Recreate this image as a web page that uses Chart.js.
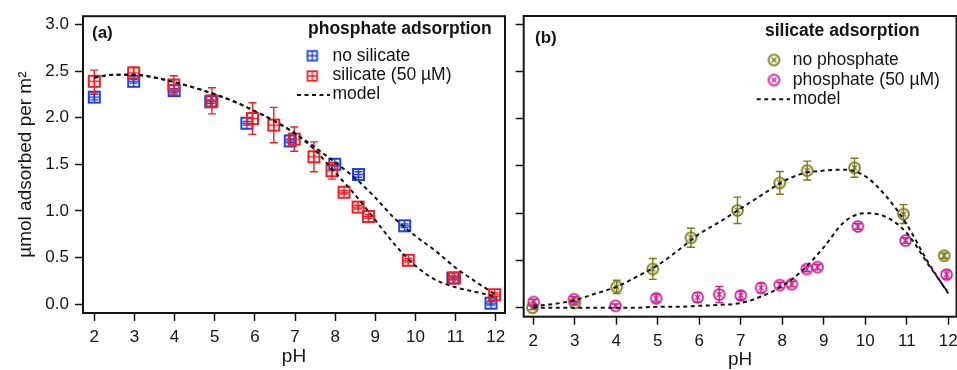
<!DOCTYPE html>
<html><head><meta charset="utf-8">
<script src="https://cdn.jsdelivr.net/npm/chart.js@4/dist/chart.umd.min.js"></script>
<style>
html,body{margin:0;padding:0;background:#fff;overflow:hidden;width:957px;height:370px;position:relative;}
#wrapA{position:absolute;left:0;top:0;width:512px;height:370px;}
#wrapB{position:absolute;left:510px;top:0;width:460px;height:380px;}
canvas{display:block;}
</style></head><body>
<div id="wrapA"><canvas id="cA" width="512" height="370"></canvas></div>
<div id="wrapB"><canvas id="cB" width="460" height="380"></canvas></div>
<script>
// ---------- data ----------
const pHTicks = [2,3,4,5,6,7,8,9,10,11,12];
const yTicks = [0,0.5,1.0,1.5,2.0,2.5,3.0];

// panel (a): phosphate adsorption
const phNoSil  = [2.0, 2.98, 3.99, 4.9, 5.8, 6.88, 7.99, 8.58, 9.73, 10.93, 11.88];
const valNoSil = [2.22, 2.39, 2.29, 2.17, 1.94, 1.75, 1.50, 1.39, 0.84, 0.28, 0.01];
const errNoSil = [0.03, 0.02, 0.02, 0.02, 0.02, 0.02, 0.02, 0.03, 0.02, 0.02, 0.02];

const phSil  = [2.0, 2.98, 3.98, 4.93, 5.94, 6.47, 6.98, 7.47, 7.92, 8.22, 8.57, 8.83, 9.82, 10.97, 11.97];
const valSil = [2.39, 2.48, 2.35, 2.18, 1.99, 1.92, 1.77, 1.58, 1.43, 1.20, 1.04, 0.94, 0.47, 0.28, 0.10];
const errSil = [0.12, 0.06, 0.10, 0.14, 0.17, 0.19, 0.13, 0.16, 0.09, 0.02, 0.02, 0.02, 0.02, 0.02, 0.02];

const modelPH = [2,2.5,3,3.5,4,4.5,5,5.5,6,6.5,7,7.5,8,8.5,9,9.5,10,10.5,11,11.5,12];
const modelNoSil = [2.43,2.46,2.46,2.43,2.38,2.32,2.25,2.17,2.07,1.96,1.83,1.68,1.52,1.35,1.14,0.91,0.73,0.57,0.39,0.24,0.10];
const modelSil   = [2.43,2.46,2.46,2.43,2.38,2.32,2.25,2.17,2.07,1.96,1.83,1.65,1.41,1.17,0.90,0.63,0.41,0.26,0.18,0.13,0.08];

// panel (b): silicate adsorption
const phNoPhos  = [1.98, 3.0, 4.01, 4.88, 5.8, 6.92, 7.94, 8.6, 9.74, 10.92, 11.9];
const valNoPhos = [0.0, 0.05, 0.22, 0.41, 0.74, 1.03, 1.32, 1.45, 1.48, 0.99, 0.55];
const errNoPhos = [0.02, 0.02, 0.07, 0.11, 0.10, 0.14, 0.12, 0.10, 0.10, 0.10, 0.03];

const phPhos  = [2.01, 2.98, 3.98, 4.96, 5.96, 6.48, 7.0, 7.49, 7.94, 8.23, 8.59, 8.85, 9.82, 10.97, 11.96];
const valPhos = [0.06, 0.09, 0.02, 0.10, 0.11, 0.14, 0.13, 0.21, 0.24, 0.25, 0.41, 0.43, 0.86, 0.71, 0.35];
const errPhos = [0.03, 0.03, 0.02, 0.04, 0.05, 0.085, 0.04, 0.05, 0.03, 0.03, 0.03, 0.03, 0.03, 0.03, 0.04];

const modelNoPhos = [0.02,0.04,0.08,0.15,0.22,0.33,0.45,0.61,0.78,0.91,1.05,1.19,1.33,1.42,1.45,1.46,1.39,1.18,0.88,0.49,0.15];
const modelPhos   = [0.0,0.0,0.0,0.0,0.0,0.0,0.01,0.01,0.02,0.03,0.05,0.12,0.23,0.40,0.64,0.91,1.00,0.96,0.79,0.47,0.16];

// ---------- styling ----------
const FONT = '"Liberation Sans", Arial, Helvetica, sans-serif';
const INK = '#141414';
const BLUE = 'rgb(30,66,218)', RED = 'rgb(238,32,36)', OLIVE = 'rgb(122,122,22)', MAGENTA = 'rgb(204,34,150)';

function squareMarker(color, size, lw){
  const S = Math.ceil(size + lw + 2);
  const c = document.createElement('canvas'); c.width = c.height = S;
  const g = c.getContext('2d'); g.strokeStyle = color; g.lineWidth = lw;
  const m = S/2, h = size/2;
  g.strokeRect(m-h, m-h, size, size);
  g.lineWidth = lw*0.75;
  g.beginPath(); g.moveTo(m, m-h); g.lineTo(m, m+h); g.moveTo(m-h, m); g.lineTo(m+h, m); g.stroke();
  return c;
}
function circleMarker(color, r, lw, a){
  const S = Math.ceil(2*r + lw + 2);
  const c = document.createElement('canvas'); c.width = c.height = S;
  const g = c.getContext('2d'); g.strokeStyle = color; g.lineWidth = lw;
  const m = S/2;
  g.beginPath(); g.arc(m, m, r, 0, Math.PI*2); g.stroke();
  g.lineWidth = lw*0.8;
  g.beginPath(); g.moveTo(m-a,m-a); g.lineTo(m+a,m+a); g.moveTo(m+a,m-a); g.lineTo(m-a,m+a); g.stroke();
  return c;
}
const mkBlue = squareMarker(BLUE, 11, 2), mkRed = squareMarker(RED, 11, 2);
const lgBlue = squareMarker(BLUE, 9.5, 1.8), lgRed = squareMarker(RED, 9.5, 1.8);
const mkOlive = circleMarker(OLIVE, 5.4, 1.8, 2.4), mkMag = circleMarker(MAGENTA, 5.4, 1.8, 2.4);

const pts = (xs, ys) => xs.map((x,i)=>({x, y: ys[i]}));

// ---------- plugins ----------
const errorBars = {
  id:'errorBars',
  beforeDatasetDraw(chart, args){
    const ds = chart.data.datasets[args.index];
    if (!ds.errors) return;
    const xs = chart.scales.x, ys = chart.scales.y, ctx = chart.ctx;
    ctx.save(); ctx.strokeStyle = ds.errColor; ctx.lineWidth = 1.4;
    ds.data.forEach((p,i)=>{
      const e = ds.errors[i]; if (!e) return;
      const x = xs.getPixelForValue(p.x);
      const y0 = ys.getPixelForValue(p.y - e), y1 = ys.getPixelForValue(p.y + e);
      ctx.beginPath();
      ctx.moveTo(x, y0); ctx.lineTo(x, y1);
      ctx.moveTo(x-4, y0); ctx.lineTo(x+4, y0);
      ctx.moveTo(x-4, y1); ctx.lineTo(x+4, y1);
      ctx.stroke();
    });
    ctx.restore();
  }
};
const frame = {
  id:'frame',
  afterDraw(chart){
    const {ctx, chartArea:a} = chart;
    ctx.save(); ctx.strokeStyle = INK; ctx.lineWidth = 2;
    ctx.strokeRect(a.left, a.top, a.right - a.left, a.bottom - a.top);
    ctx.restore();
  }
};
const legendBox = {
  id:'legendBox',
  afterDraw(chart, args, o){
    const ctx = chart.ctx; ctx.save();
    ctx.textBaseline = 'middle'; ctx.textAlign = 'left'; ctx.fillStyle = INK;
    ctx.font = 'bold 17.5px ' + FONT;
    ctx.fillText(o.title, o.titleX, o.titleY);
    ctx.font = 'bold 17px ' + FONT;
    ctx.fillText(o.tag, o.tagX, o.tagY);
    ctx.font = '17.5px ' + FONT;
    o.items.forEach(it=>{
      const ds = chart.data.datasets[it.ds];
      if (ds.showLine) {
        ctx.save(); ctx.strokeStyle = ds.borderColor; ctx.lineWidth = ds.borderWidth;
        ctx.setLineDash(ds.borderDash); ctx.beginPath();
        ctx.moveTo(o.lineX0, it.my); ctx.lineTo(o.lineX1, it.my); ctx.stroke(); ctx.restore();
      } else {
        const img = it.img;
        ctx.drawImage(img, o.markX - img.width/2, it.my - img.height/2);
      }
      ctx.fillStyle = INK;
      ctx.fillText(ds.label, o.textX, it.ty);
    });
    ctx.restore();
  }
};

function xScale(min, max, h, titlePad){
  return {
    type:'linear', min, max,
    afterBuildTicks: s => { s.ticks = pHTicks.map(v=>({value:v})); },
    afterFit: s => { s.height = h; },
    grid:{drawOnChartArea:false, drawTicks:true, tickLength:8, tickWidth:1.5, tickColor:INK},
    border:{display:false},
    ticks:{color:INK, font:{family:FONT, size:17}, padding:6, maxRotation:0, autoSkip:false, callback: v => String(v)},
    title:{display:true, text:'pH', color:INK, font:{family:FONT, size:19}, padding:{top:0, bottom:titlePad}}
  };
}
function yScale(min, max, w, showLabels){
  return {
    type:'linear', min, max,
    afterBuildTicks: s => { s.ticks = yTicks.map(v=>({value:v})); },
    afterFit: s => { s.width = w; },
    grid:{drawOnChartArea:false, drawTicks:true, tickLength:8, tickWidth:1.5, tickColor:INK},
    border:{display:false},
    ticks:{display:showLabels, color:INK, font:{family:FONT, size:17}, padding:6, callback: v => v.toFixed(1)},
    title:{display:showLabels, text:'µmol adsorbed per m²', color:INK, font:{family:FONT, size:19}, padding:{top:14, bottom:0}}
  };
}
const modelStyle = {showLine:true, pointRadius:0, borderColor:INK, borderWidth:2, borderDash:[4,3.5], cubicInterpolationMode:'monotone', fill:false, order:0};

// ---------- chart (a) ----------
new Chart(document.getElementById('cA'), {
  type:'scatter',
  data:{datasets:[
    Object.assign({label:'model', data: pts(modelPH, modelNoSil)}, modelStyle),
    Object.assign({label:'model', data: pts(modelPH, modelSil)}, modelStyle),
    {label:'silicate (50 µM)', data: pts(phSil, valSil), errors: errSil, errColor: RED, pointStyle: mkRed, pointRadius:6, order:1},
    {label:'no silicate', data: pts(phNoSil, valNoSil), errors: errNoSil, errColor: BLUE, pointStyle: mkBlue, pointRadius:6, order:2}
  ]},
  options:{
    responsive:false, animation:false, devicePixelRatio:1,
    layout:{padding:{top:14, right:6.5, bottom:0, left:0}},
    scales:{ x: xScale(1.719, 12.229, 57, 2.1), y: yScale(-0.0958, 3.088, 83, true) },
    plugins:{
      legend:{display:false}, tooltip:{enabled:false},
      legendBox:{
        title:'phosphate adsorption', titleX:308, titleY:28.9,
        tag:'(a)', tagX:92, tagY:33.5,
        markX:312.3, textX:332.5, lineX0:297, lineX1:330,
        items:[
          {ds:3, img:lgBlue, my:55.7, ty:56.2},
          {ds:2, img:lgRed, my:76, ty:75.6},
          {ds:0, my:95, ty:94.6}
        ]
      }
    }
  },
  plugins:[errorBars, frame, legendBox]
});

// ---------- chart (b) ----------
new Chart(document.getElementById('cB'), {
  type:'scatter',
  data:{datasets:[
    Object.assign({label:'model', data: pts(modelPH, modelNoPhos)}, modelStyle),
    Object.assign({label:'model', data: pts(modelPH, modelPhos)}, modelStyle),
    {label:'phosphate (50 µM)', data: pts(phPhos, valPhos), errors: errPhos, errColor: MAGENTA, pointStyle: mkMag, pointRadius:6, order:1},
    {label:'no phosphate', data: pts(phNoPhos, valNoPhos), errors: errNoPhos, errColor: OLIVE, pointStyle: mkOlive, pointRadius:6, order:2}
  ]},
  options:{
    responsive:false, animation:false, devicePixelRatio:1,
    layout:{padding:{top:16, right:13.5, bottom:0, left:0}},
    scales:{ x: xScale(1.769, 12.198, 63.3, 8.7), y: yScale(-0.095, 3.085, 13.7, false) },
    plugins:{
      legend:{display:false}, tooltip:{enabled:false},
      legendBox:{
        title:'silicate adsorption', titleX:255, titleY:31.2,
        tag:'(b)', tagX:25, tagY:38.5,
        markX:264, textX:282.7, lineX0:246.7, lineX1:280,
        items:[
          {ds:3, img:mkOlive, my:60, ty:60},
          {ds:2, img:mkMag, my:80, ty:80},
          {ds:0, my:99.3, ty:99}
        ]
      }
    }
  },
  plugins:[errorBars, frame, legendBox]
});
</script>
</body></html>
